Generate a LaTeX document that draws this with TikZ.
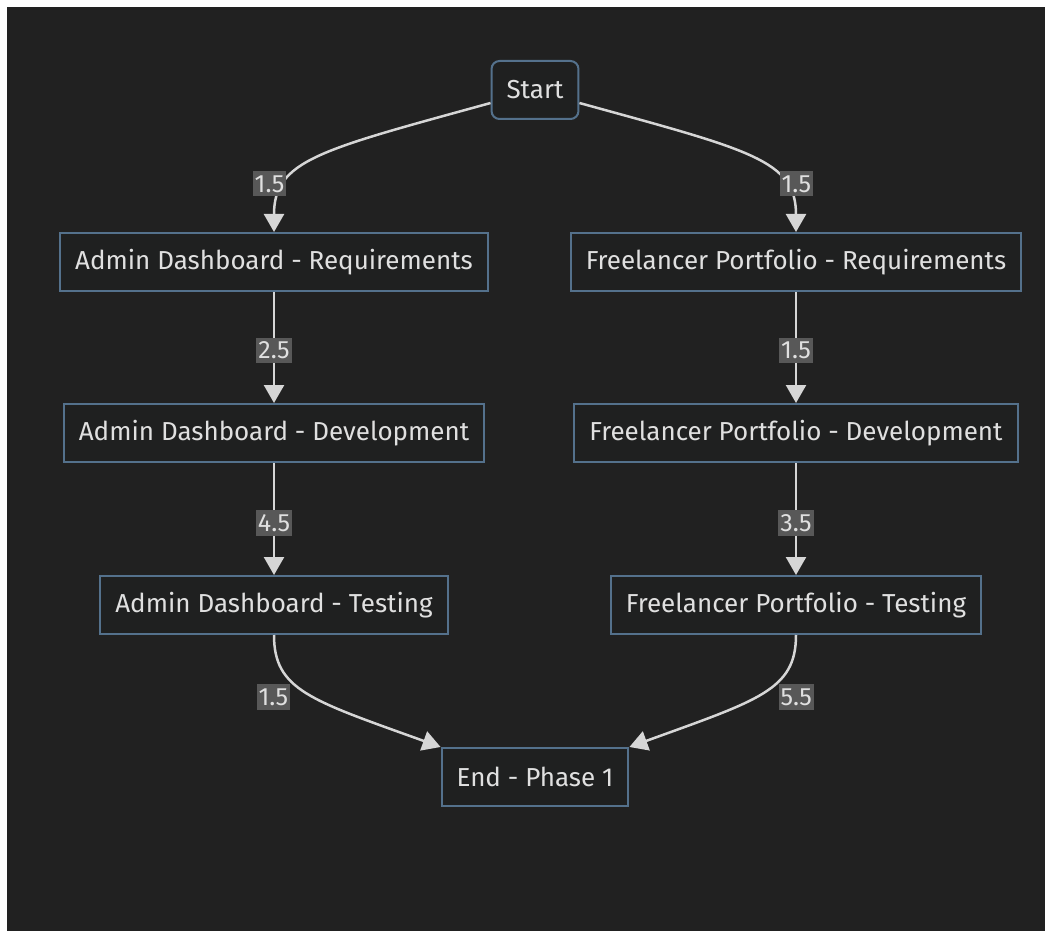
\documentclass[tikz,border=0pt]{standalone}
\usepackage{fontspec}
\setmainfont{Fira Sans}
\usetikzlibrary{arrows.meta, positioning}
\definecolor{bgdark}{RGB}{33,33,33}
\definecolor{boxline}{RGB}{84,113,140}
\definecolor{boxfill}{RGB}{31,32,32}
\definecolor{flowline}{RGB}{214,214,214}
\definecolor{lblfill}{RGB}{88,88,88}
\definecolor{txtlight}{RGB}{224,224,224}
\tikzset{
  task/.style={draw=boxline, line width=2pt, fill=boxfill, text=txtlight,
    minimum height=58pt, inner xsep=15pt, font=\fontsize{26}{30}\selectfont},
  startbox/.style={task, rounded corners=8pt},
  flow/.style={draw=flowline, line width=2.5pt, -{Triangle[length=18pt,width=20pt]}},
  dur/.style={fill=lblfill, text=txtlight, inner xsep=2pt, inner ysep=4pt,
    font=\fontsize{25}{29}\selectfont}
}

\begin{document}
\begin{tikzpicture}[x=1pt, y=-1pt]
    % Nền
    \useasboundingbox (0,0) rectangle (1045,931);
    \fill[white] (0,0) rectangle (1045,931);
    \fill[bgdark] (7,7) rectangle (1045,931);

    % Các nút
    \node[startbox] (start) at (535,90) {Start};
    \node[task] (adminReq) at (274,262) {Admin Dashboard - Requirements};
    \node[task] (freeReq) at (796,262) {Freelancer Portfolio - Requirements};
    \node[task] (adminDev) at (274,433) {Admin Dashboard - Development};
    \node[task] (freeDev) at (796,433) {Freelancer Portfolio - Development};
    \node[task] (adminTest) at (274,605) {Admin Dashboard - Testing};
    \node[task] (freeTest) at (796,605) {Freelancer Portfolio - Testing};
    \node[task] (phaseEnd) at (535,777) {End - Phase 1};

    % Nhánh trái
    \draw[flow] ([yshift=-13pt]start.west) .. controls (320,150) and (274,160) .. (adminReq.north)
        node[dur, pos=0.72, xshift=-17pt] {1.5};
    \draw[flow] (adminReq) -- (adminDev) node[dur, midway, yshift=-3pt] {2.5};
    \draw[flow] (adminDev) -- (adminTest) node[dur, midway, yshift=-4pt] {4.5};
    \draw[flow] (adminTest.south) .. controls (274,690) and (310,700) .. (phaseEnd.north west)
        node[dur, pos=0.5, xshift=-35pt, yshift=-3pt] {1.5};

    % Nhánh phải
    \draw[flow] ([yshift=-13pt]start.east) .. controls (750,150) and (796,160) .. (freeReq.north)
        node[dur, pos=0.72, xshift=13pt] {1.5};
    \draw[flow] (freeReq) -- (freeDev) node[dur, midway, yshift=-3pt] {1.5};
    \draw[flow] (freeDev) -- (freeTest) node[dur, midway, yshift=-4pt] {3.5};
    \draw[flow] (freeTest.south) .. controls (796,690) and (759,700) .. (phaseEnd.north east)
        node[dur, pos=0.5, xshift=35pt, yshift=-3pt] {5.5};
\end{tikzpicture}
\end{document}
